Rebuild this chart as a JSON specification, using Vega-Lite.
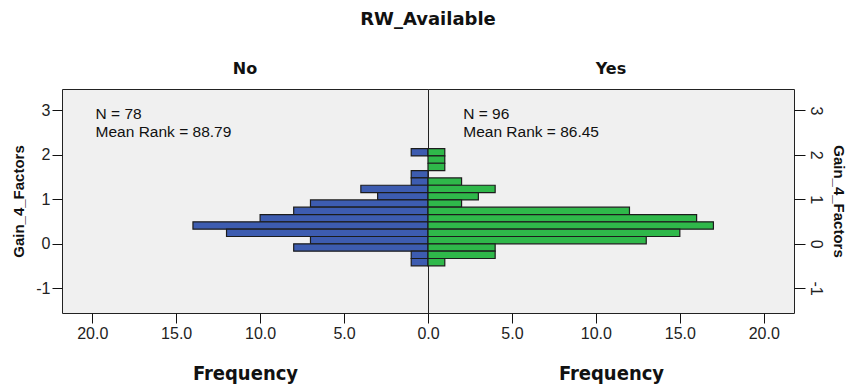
{
  "$schema": "https://vega.github.io/schema/vega-lite/v6.json",
  "background": "white",
  "padding": {"left": 10, "right": 0, "top": 10, "bottom": 4},
  "bounds": "flush",
  "title": {
    "text": "RW_Available",
    "font": "DejaVu Sans",
    "fontSize": 18,
    "fontWeight": "bold",
    "color": "#111",
    "anchor": "middle",
    "offset": 32
  },
  "datasets": {
    "bins": [
      {"group": "No", "lo": 1.975, "hi": 2.14, "count": 1},
      {"group": "No", "lo": 1.48, "hi": 1.645, "count": 1},
      {"group": "No", "lo": 1.315, "hi": 1.48, "count": 1},
      {"group": "No", "lo": 1.15, "hi": 1.315, "count": 4},
      {"group": "No", "lo": 0.985, "hi": 1.15, "count": 3},
      {"group": "No", "lo": 0.82, "hi": 0.985, "count": 7},
      {"group": "No", "lo": 0.655, "hi": 0.82, "count": 8},
      {"group": "No", "lo": 0.49, "hi": 0.655, "count": 10},
      {"group": "No", "lo": 0.325, "hi": 0.49, "count": 14},
      {"group": "No", "lo": 0.16, "hi": 0.325, "count": 12},
      {"group": "No", "lo": -0.005, "hi": 0.16, "count": 7},
      {"group": "No", "lo": -0.17, "hi": -0.005, "count": 8},
      {"group": "No", "lo": -0.335, "hi": -0.17, "count": 1},
      {"group": "No", "lo": -0.5, "hi": -0.335, "count": 1},
      {"group": "Yes", "lo": 1.975, "hi": 2.14, "count": 1},
      {"group": "Yes", "lo": 1.81, "hi": 1.975, "count": 1},
      {"group": "Yes", "lo": 1.645, "hi": 1.81, "count": 1},
      {"group": "Yes", "lo": 1.315, "hi": 1.48, "count": 2},
      {"group": "Yes", "lo": 1.15, "hi": 1.315, "count": 4},
      {"group": "Yes", "lo": 0.985, "hi": 1.15, "count": 3},
      {"group": "Yes", "lo": 0.82, "hi": 0.985, "count": 2},
      {"group": "Yes", "lo": 0.655, "hi": 0.82, "count": 12},
      {"group": "Yes", "lo": 0.49, "hi": 0.655, "count": 16},
      {"group": "Yes", "lo": 0.325, "hi": 0.49, "count": 17},
      {"group": "Yes", "lo": 0.16, "hi": 0.325, "count": 15},
      {"group": "Yes", "lo": -0.005, "hi": 0.16, "count": 13},
      {"group": "Yes", "lo": -0.17, "hi": -0.005, "count": 4},
      {"group": "Yes", "lo": -0.335, "hi": -0.17, "count": 4},
      {"group": "Yes", "lo": -0.5, "hi": -0.335, "count": 1}
    ],
    "stats": [
      {"group": "No", "label": "N = 78\nMean Rank = 88.79"},
      {"group": "Yes", "label": "N = 96\nMean Rank = 86.45"}
    ]
  },
  "spacing": 0,
  "hconcat": [
    {
      "width": 366,
      "height": 224,
      "title": {"text": "No"},
      "layer": [
        {
          "data": {"name": "bins"},
          "transform": [{"filter": "datum.group === 'No'"}],
          "mark": {"type": "bar", "orient": "horizontal", "fill": "#3d5cb0", "stroke": "#1c1c1c", "strokeWidth": 1.2},
          "encoding": {
            "x": {
              "field": "count",
              "type": "quantitative",
              "scale": {"domain": [0, 21.8], "reverse": true, "nice": false, "zero": true},
              "axis": {"values": [5, 10, 15, 20], "format": ".1f", "title": "Frequency"}
            },
            "x2": {"datum": 0},
            "y": {
              "field": "lo",
              "type": "quantitative",
              "scale": {"domain": [-1.45, 3.37], "nice": false, "zero": false},
              "axis": {"orient": "left", "values": [-1, 0, 1, 2, 3], "labelExpr": "'' + datum.value", "title": "Gain_4_Factors", "minExtent": 30, "maxExtent": 30}
            },
            "y2": {"field": "hi"}
          }
        },
        {
          "data": {"name": "stats"},
          "transform": [{"filter": "datum.group === 'No'"}],
          "mark": {"type": "text", "align": "left", "baseline": "top", "lineBreak": "\n", "lineHeight": 18, "font": "Liberation Sans", "fontSize": 15.5, "color": "#111"},
          "encoding": {
            "x": {"datum": 19.8, "type": "quantitative"},
            "y": {"datum": 3.08, "type": "quantitative"},
            "text": {"field": "label"}
          }
        }
      ]
    },
    {
      "width": 366,
      "height": 224,
      "title": {"text": "Yes"},
      "layer": [
        {
          "data": {"name": "bins"},
          "transform": [{"filter": "datum.group === 'Yes'"}],
          "mark": {"type": "bar", "orient": "horizontal", "fill": "#2fb84a", "stroke": "#1c1c1c", "strokeWidth": 1.2},
          "encoding": {
            "x": {
              "field": "count",
              "type": "quantitative",
              "scale": {"domain": [0, 21.8], "nice": false, "zero": true},
              "axis": {"values": [0, 5, 10, 15, 20], "format": ".1f", "title": "Frequency"}
            },
            "x2": {"datum": 0},
            "y": {
              "field": "lo",
              "type": "quantitative",
              "scale": {"domain": [-1.45, 3.37], "nice": false, "zero": false},
              "axis": {"orient": "right", "values": [-1, 0, 1, 2, 3], "labelExpr": "'' + datum.value", "title": "Gain_4_Factors", "tickSize": 11, "labelAngle": 90, "labelAlign": "center", "labelBaseline": "bottom", "minExtent": 28, "maxExtent": 28, "titlePadding": 8}
            },
            "y2": {"field": "hi"}
          }
        },
        {
          "data": {"name": "stats"},
          "transform": [{"filter": "datum.group === 'Yes'"}],
          "mark": {"type": "text", "align": "left", "baseline": "top", "lineBreak": "\n", "lineHeight": 18, "font": "Liberation Sans", "fontSize": 15.5, "color": "#111"},
          "encoding": {
            "x": {"datum": 2.1, "type": "quantitative"},
            "y": {"datum": 3.08, "type": "quantitative"},
            "text": {"field": "label"}
          }
        }
      ]
    }
  ],
  "config": {
    "view": {"fill": "#f0f0f0", "stroke": "#222", "strokeWidth": 1},
    "title": {"font": "DejaVu Sans", "fontSize": 16, "fontWeight": "bold", "color": "#111", "offset": 12},
    "axis": {
      "domain": false,
      "grid": false,
      "ticks": true,
      "tickColor": "#111",
      "tickSize": 10,
      "labelFont": "Liberation Sans",
      "labelFontSize": 16,
      "labelColor": "#222",
      "labelPadding": 2,
      "labelFlush": false,
      "labelOverlap": false,
      "titleFont": "DejaVu Sans Condensed, Liberation Sans",
      "titleFontSize": 20,
      "titleFontWeight": "bold",
      "titleColor": "#111"
    },
    "axisX": {"titlePadding": 22},
    "axisY": {"titleFont": "Liberation Sans", "titleFontSize": 15, "titlePadding": 6, "labelFontSize": 16}
  }
}
